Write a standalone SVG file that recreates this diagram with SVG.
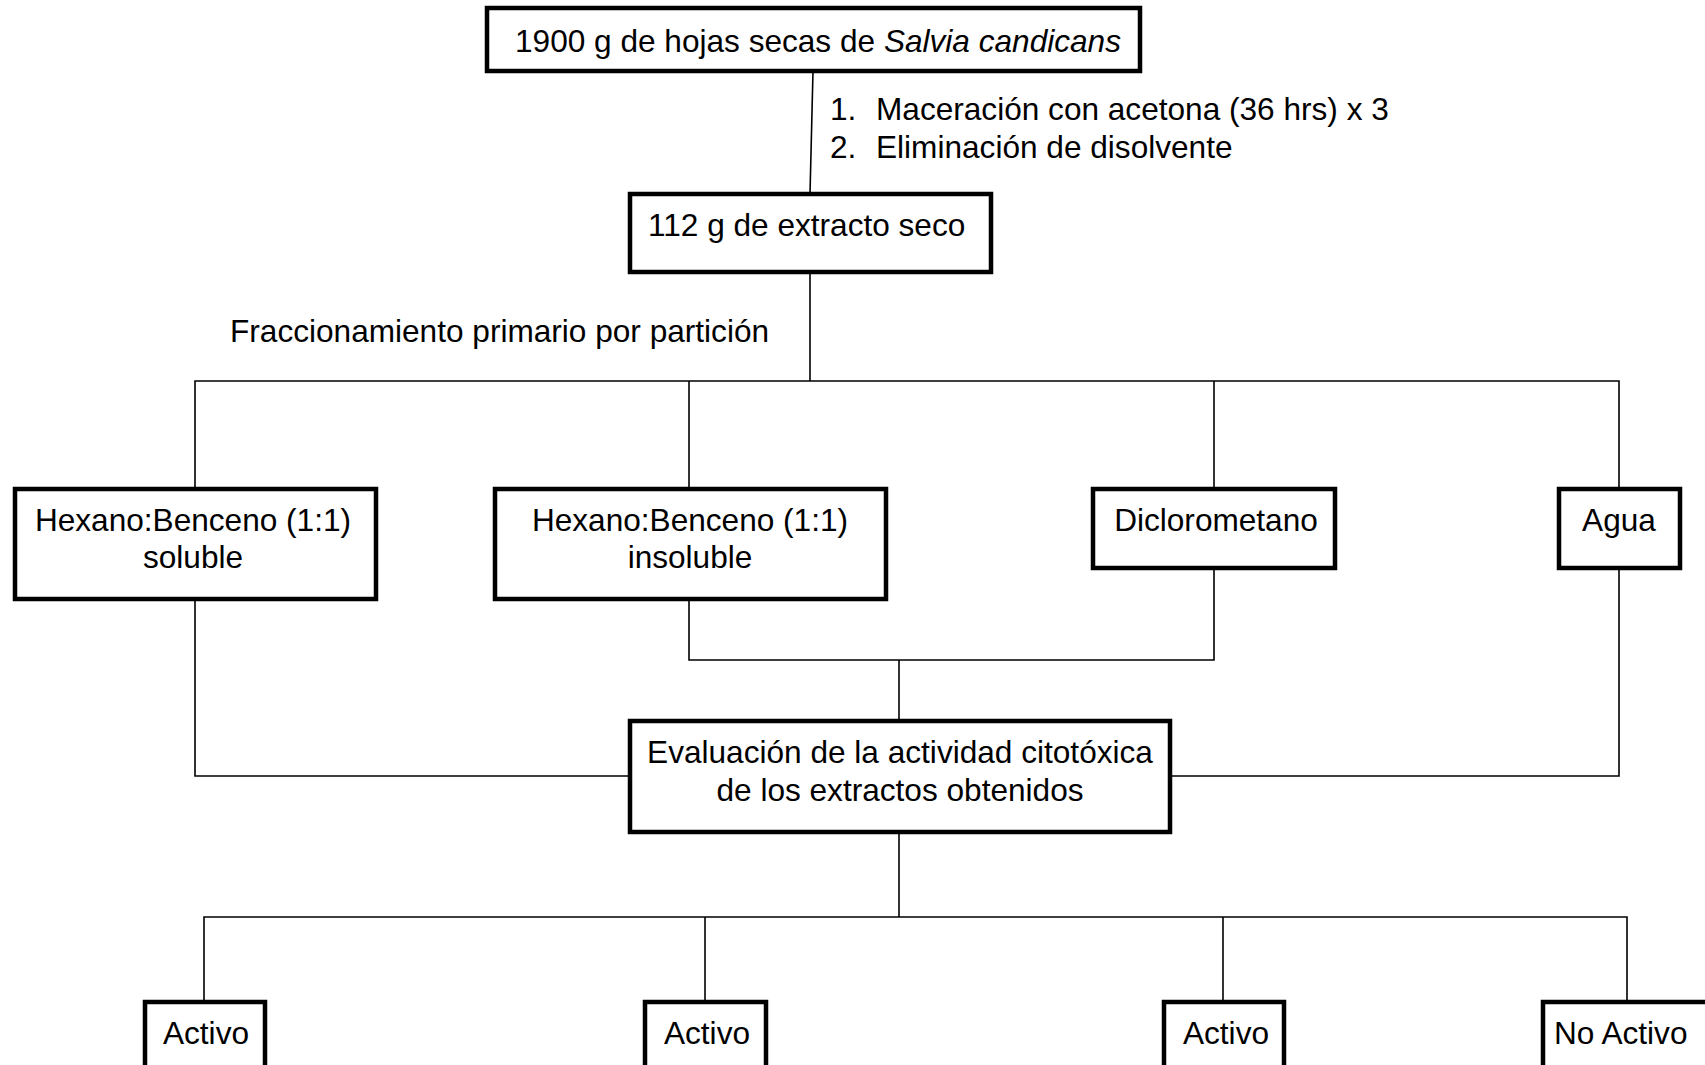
<svg xmlns="http://www.w3.org/2000/svg" width="1705" height="1065" viewBox="0 0 1705 1065">
<style>
.box{fill:#fff;stroke:#000;stroke-width:4.5}
.ln{fill:none;stroke:#000;stroke-width:1.6}
text{font-family:"Liberation Sans",Arial,sans-serif;font-size:31.6px;fill:#000}
.c{text-anchor:middle}
</style>
<rect width="1705" height="1065" fill="#fff"/>
<g id="connectors">
<polyline class="ln" points="813,71 810,194"/>
<polyline class="ln" points="810,272 810,381"/>
<polyline class="ln" points="195,489 195,381 1619,381 1619,489"/>
<polyline class="ln" points="689,381 689,489"/>
<polyline class="ln" points="1214,381 1214,489"/>
<polyline class="ln" points="195,599 195,776 630,776"/>
<polyline class="ln" points="689,599 689,660 1214,660 1214,568"/>
<polyline class="ln" points="899,660 899,721"/>
<polyline class="ln" points="1619,568 1619,776 1170,776"/>
<polyline class="ln" points="899,832 899,917"/>
<polyline class="ln" points="204,1001 204,917 1627,917 1627,1001"/>
<polyline class="ln" points="705,917 705,1001"/>
<polyline class="ln" points="1223,917 1223,1001"/>
</g>
<g id="n-hojas"><rect class="box" x="487" y="8" width="653" height="63"/><text x="515" y="52">1900 g de hojas secas de <tspan font-style="italic">Salvia candicans</tspan></text></g>
<g id="lbl-pasos"><text x="830" y="120">1.</text><text x="876" y="120">Maceración con acetona (36 hrs) x 3</text><text x="830" y="158">2.</text><text x="876" y="158">Eliminación de disolvente</text></g>
<g id="n-extracto"><rect class="box" x="630" y="194" width="361" height="78"/><text x="648" y="236">112 g de extracto seco</text></g>
<g id="lbl-frac"><text x="230" y="342">Fraccionamiento primario por partición</text></g>
<g id="n-hbsol"><rect class="box" x="15" y="489" width="361" height="110"/><text class="c" x="193" y="531">Hexano:Benceno (1:1)</text><text class="c" x="193" y="568">soluble</text></g>
<g id="n-hbinsol"><rect class="box" x="495" y="489" width="391" height="110"/><text class="c" x="690" y="531">Hexano:Benceno (1:1)</text><text class="c" x="690" y="568">insoluble</text></g>
<g id="n-dcm"><rect class="box" x="1093" y="489" width="242" height="79"/><text class="c" x="1216" y="531">Diclorometano</text></g>
<g id="n-agua"><rect class="box" x="1559" y="489" width="121" height="79"/><text class="c" x="1619" y="531">Agua</text></g>
<g id="n-eval"><rect class="box" x="630" y="721" width="540" height="111"/><text class="c" x="900" y="763">Evaluación de la actividad citotóxica</text><text class="c" x="900" y="801">de los extractos obtenidos</text></g>
<g id="n-act1"><rect class="box" x="145" y="1002" width="120" height="90"/><text class="c" x="206" y="1044">Activo</text></g>
<g id="n-act2"><rect class="box" x="645" y="1002" width="121" height="90"/><text class="c" x="707" y="1044">Activo</text></g>
<g id="n-act3"><rect class="box" x="1164" y="1002" width="120" height="90"/><text class="c" x="1226" y="1044">Activo</text></g>
<g id="n-noact"><rect class="box" x="1543" y="1002" width="200" height="90"/><text x="1554" y="1044">No Activo</text></g>
</svg>
